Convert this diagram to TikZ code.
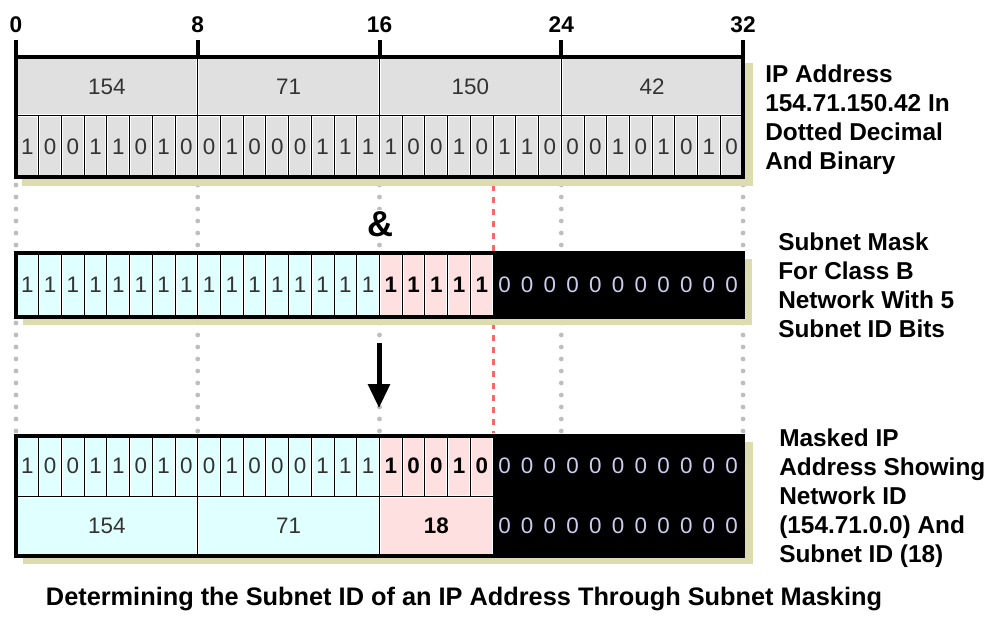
\documentclass[tikz,border=0pt]{standalone}
\usepackage{fontspec}
\setmainfont{Liberation Sans}
\usetikzlibrary{arrows.meta}
\definecolor{cellgrey}{RGB}{224,224,224}
\definecolor{cellcyan}{RGB}{224,255,255}
\definecolor{cellpink}{RGB}{255,224,224}
\definecolor{shadowk}{RGB}{221,219,176}
\definecolor{dotgrey}{RGB}{190,190,190}
\definecolor{maskred}{RGB}{255,102,102}
\definecolor{zerolav}{RGB}{204,204,238}
\definecolor{digitgrey}{RGB}{51,51,51}
\newcommand{\mkcell}[5]{%
  \fill[white] (#1,#2) rectangle (#3,#4);
  \fill[#5] ({#1+1.5},{#2+1.5}) rectangle ({#3-1.5},{#4-1.5});
  \draw[line width=0.75pt] (#1,#2) rectangle (#3,#4);}
\tikzset{
  bitdigit/.style={inner sep=0pt, text=digitgrey, font=\fontsize{16.8pt}{19pt}\selectfont},
  bitbold/.style={inner sep=0pt, text=black, font=\fontsize{16.8pt}{19pt}\selectfont\bfseries},
  bitzero/.style={inner sep=0pt, text=zerolav, font=\fontsize{16.8pt}{19pt}\selectfont},
  ticklabel/.style={inner sep=0pt, anchor=base, font=\fontsize{17pt}{19pt}\selectfont\bfseries},
  tickline/.style={line width=3pt},
  frame/.style={line width=3pt},
  shadowbox/.style={fill=shadowk},
  dotline/.style={dotgrey, line width=3.6pt, line cap=round, dash pattern=on 0pt off 9pt},
  redline/.style={maskred, line width=2.2pt, dash pattern=on 4.5pt off 4.5pt},
  sidelabel/.style={inner sep=0pt, anchor=north west, align=left, font=\fontsize{18.3pt}{21.75pt}\selectfont\bfseries},
}
\begin{document}
\begin{tikzpicture}[x=0.75pt,y=-0.75pt]
\useasboundingbox (0,0) rectangle (1000,617);
% ---------- dotted guide lines ----------
\foreach \b in {0,8,16,24,32}{
  \pgfmathsetmacro\xx{16+\b*22.72}
  \coordinate (ga\b) at (\xx,185);
  \coordinate (gb\b) at (\xx,250);
  \coordinate (gc\b) at (\xx,323);
  \coordinate (gd\b) at (\xx,432);
  \draw[dotline] (ga\b) -- (gb\b);
  \draw[dotline] (gc\b) -- (gd\b);
}
\coordinate (ra) at (493.12,185);
\coordinate (rb) at (493.12,251);
\coordinate (rc) at (493.12,323);
\coordinate (rd) at (493.12,433);
\draw[redline] (ra) -- (rb);
\draw[redline] (rc) -- (rd);
% ---------- top register: IP address ----------
\fill[shadowbox] (22,63) rectangle (753,186);
\foreach \v [count=\k from 0] in {154,71,150,42}{
  \pgfmathsetmacro\xa{16+\k*8*22.72}
  \pgfmathsetmacro\xb{16+(\k+1)*8*22.72}
  \pgfmathsetmacro\xc{16+(\k+0.5)*8*22.72}
  \mkcell{\xa}{57}{\xb}{116}{cellgrey}
  \node[bitdigit] (ipv\k) at (\xc,87) {\v};
}
\foreach \d [count=\i from 0] in {1,0,0,1,1,0,1,0,0,1,0,0,0,1,1,1,1,0,0,1,0,1,1,0,0,0,1,0,1,0,1,0}{
  \pgfmathsetmacro\xa{16+\i*22.72}
  \pgfmathsetmacro\xb{16+(\i+1)*22.72}
  \pgfmathsetmacro\xc{16+(\i+0.5)*22.72}
  \mkcell{\xa}{116}{\xb}{177}{cellgrey}
  \node[bitdigit] (ipb\i) at (\xc,147) {\d};
}
\draw[frame] (16,57) rectangle (743,177);
% ruler
\foreach \b in {0,8,16,24,32}{
  \pgfmathsetmacro\xx{16+\b*22.72}
  \node[ticklabel] (tl\b) at (\xx,33) {\b};
  \coordinate (tt\b) at (\xx,40);
  \coordinate (tb\b) at (\xx,57);
  \draw[tickline] (tt\b) -- (tb\b);
}
% ---------- & ----------
\node[inner sep=1pt, fill=white, font=\fontsize{27pt}{30pt}\selectfont\bfseries] (andsign) at (380,224) {\&};
% ---------- subnet mask ----------
\fill[shadowbox] (23,259) rectangle (752,325);
\foreach \i in {0,...,15}{
  \pgfmathsetmacro\xa{16+\i*22.72}
  \pgfmathsetmacro\xb{16+(\i+1)*22.72}
  \pgfmathsetmacro\xc{16+(\i+0.5)*22.72}
  \mkcell{\xa}{253}{\xb}{317}{cellcyan}
  \node[bitdigit] (mk\i) at (\xc,285) {1};
}
\foreach \i in {16,...,20}{
  \pgfmathsetmacro\xa{16+\i*22.72}
  \pgfmathsetmacro\xb{16+(\i+1)*22.72}
  \pgfmathsetmacro\xc{16+(\i+0.5)*22.72}
  \mkcell{\xa}{253}{\xb}{317}{cellpink}
  \node[bitbold] (mk\i) at (\xc,285) {1};
}
\fill[black] (493.12,253) rectangle (743,317);
\foreach \i in {21,...,31}{
  \pgfmathsetmacro\xc{16+(\i+0.5)*22.72}
  \node[bitzero] (mk\i) at (\xc,285) {0};
}
\draw[frame] (16,253) rectangle (743,317);
% ---------- arrow ----------
\coordinate (arrtop) at (379,343);
\coordinate (arrbot) at (379,408);
\draw[line width=3.75pt, -{Triangle[length=18pt,width=16pt]}] (arrtop) -- (arrbot);
% ---------- masked result ----------
\fill[shadowbox] (23,442) rectangle (753,564);
\foreach \d [count=\i from 0] in {1,0,0,1,1,0,1,0,0,1,0,0,0,1,1,1}{
  \pgfmathsetmacro\xa{16+\i*22.72}
  \pgfmathsetmacro\xb{16+(\i+1)*22.72}
  \pgfmathsetmacro\xc{16+(\i+0.5)*22.72}
  \mkcell{\xa}{436}{\xb}{496}{cellcyan}
  \node[bitdigit] (rb\i) at (\xc,466) {\d};
}
\foreach \d [count=\i from 16] in {1,0,0,1,0}{
  \pgfmathsetmacro\xa{16+\i*22.72}
  \pgfmathsetmacro\xb{16+(\i+1)*22.72}
  \pgfmathsetmacro\xc{16+(\i+0.5)*22.72}
  \mkcell{\xa}{436}{\xb}{496}{cellpink}
  \node[bitbold] (rb\i) at (\xc,466) {\d};
}
\mkcell{16}{496}{197.76}{556}{cellcyan}
\node[bitdigit] (rv0) at (106.88,526) {154};
\mkcell{197.76}{496}{379.52}{556}{cellcyan}
\node[bitdigit] (rv1) at (288.64,526) {71};
\mkcell{379.52}{496}{493.12}{556}{cellpink}
\node[bitbold] (rv2) at (436.32,526) {18};
\fill[black] (493.12,436) rectangle (743,556);
\foreach \i in {21,...,31}{
  \pgfmathsetmacro\xc{16+(\i+0.5)*22.72}
  \node[bitzero] (rb\i) at (\xc,466) {0};
  \node[bitzero] (rz\i) at (\xc,526) {0};
}
\draw[frame] (16,436) rectangle (743,556);
% ---------- side labels ----------
\node[sidelabel] (lab1) at (765,65) {IP Address\\154.71.150.42 In\\Dotted Decimal\\And Binary};
\node[sidelabel] (lab2) at (778,233) {Subnet Mask\\For Class B\\Network With 5\\Subnet ID Bits};
\node[sidelabel] (lab3) at (779,429) {Masked IP\\Address Showing\\Network ID\\(154.71.0.0) And\\Subnet ID (18)};
% ---------- caption ----------
\node[inner sep=0pt, anchor=base, font=\fontsize{19pt}{22pt}\selectfont\bfseries] (caption) at (464,605) {Determining the Subnet ID of an IP Address Through Subnet Masking};
\end{tikzpicture}
\end{document}
